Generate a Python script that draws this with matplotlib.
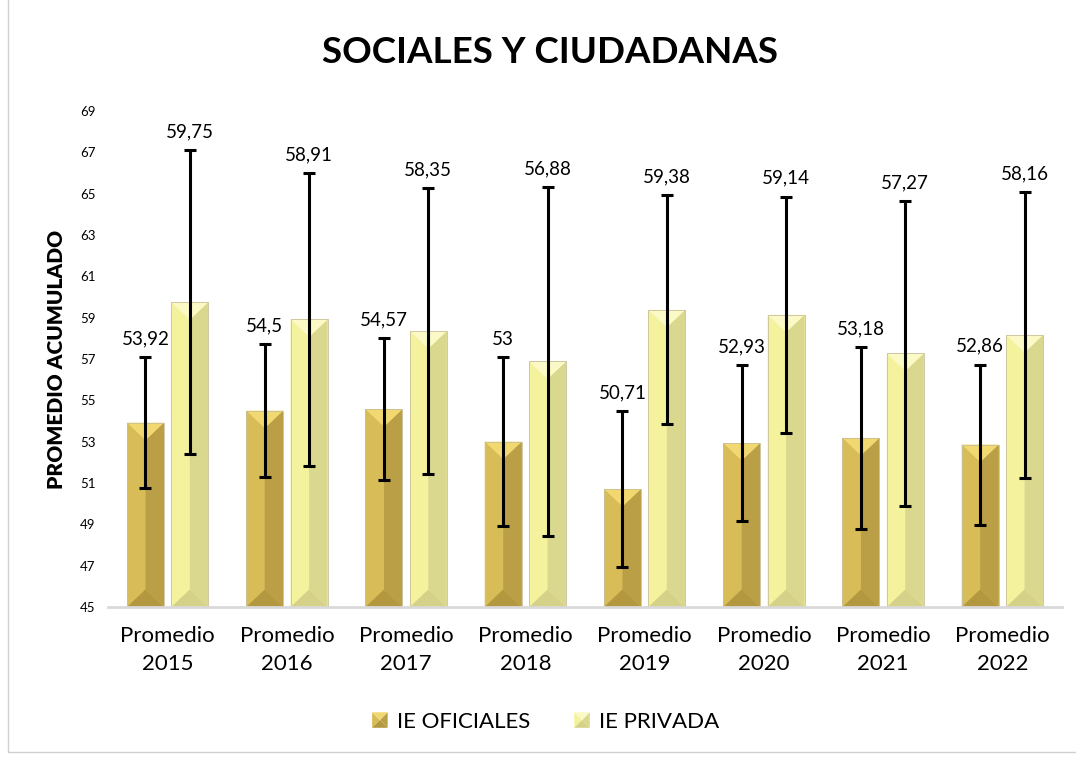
import matplotlib
matplotlib.use("Agg")
import matplotlib.pyplot as plt
import matplotlib.patches as patches
from matplotlib.legend_handler import HandlerBase
import numpy as np

plt.rcParams['font.family'] = ['Lato', 'DejaVu Sans']

# data
years = ['2015', '2016', '2017', '2018', '2019', '2020', '2021', '2022']
categories = ['Promedio\n' + y for y in years]
oficiales = [53.92, 54.5, 54.57, 53.0, 50.71, 52.93, 53.18, 52.86]
privada = [59.75, 58.91, 58.35, 56.88, 59.38, 59.14, 57.27, 58.16]
err_oficiales = [3.18, 3.22, 3.45, 4.08, 3.77, 3.78, 4.39, 3.87]
err_privada = [7.37, 7.10, 6.92, 8.45, 5.53, 5.72, 7.37, 6.90]
labels_oficiales = ['53,92', '54,5', '54,57', '53', '50,71', '52,93', '53,18', '52,86']
labels_privada = ['59,75', '58,91', '58,35', '56,88', '59,38', '59,14', '57,27', '58,16']

# colours: (top, left, right, bottom)
col_of = ('#F2D870', '#D8BC58', '#BA9F46', '#B39840')
col_pr = ('#FBF9C6', '#F5F29E', '#DAD78F', '#D5D189')


def bevel_polys(x0, y0, bw, bh, d):
    xc = x0 + bw / 2
    x1, y1 = x0 + bw, y0 + bh
    return [
        [(x0, y0), (xc, y0 + d), (xc, y1 - d), (x0, y1)],
        [(x1, y0), (xc, y0 + d), (xc, y1 - d), (x1, y1)],
        [(x0, y1), (x1, y1), (xc, y1 - d)],
        [(x0, y0), (x1, y0), (xc, y0 + d)],
    ]


class BevelHandler(HandlerBase):
    def __init__(self, cols):
        super().__init__()
        self.cols = cols

    def create_artists(self, legend, orig_handle, xdescent, ydescent, width, height, fontsize, trans):
        s = min(width, height)
        x0 = -xdescent + (width - s) / 2
        y0 = -ydescent + (height - s) / 2
        out = []
        order = [self.cols[1], self.cols[2], self.cols[0], self.cols[3]]
        for pts, c in zip(bevel_polys(x0, y0, s, s, s / 2), order):
            out.append(patches.Polygon(pts, closed=True, facecolor=c, edgecolor='none', transform=trans))
        return out


fig = plt.figure(figsize=(10.76, 7.59), dpi=100)
ax = fig.add_axes([0.1004, 0.2003, 0.8866, 0.6535])
ax.set_xlim(-0.5, len(years) - 0.5)
ax.set_ylim(45, 69)

x = np.arange(len(years))
w = 0.31
off = 0.186
b1 = ax.bar(x - off, np.array(oficiales) - 45, w, bottom=45, color=col_of[1], label='IE OFICIALES')
b2 = ax.bar(x + off, np.array(privada) - 45, w, bottom=45, color=col_pr[1], label='IE PRIVADA')

# bevel faces drawn over each bar
fig.canvas.draw()
px_x = ax.transData.transform((1, 0))[0] - ax.transData.transform((0, 0))[0]
px_y = ax.transData.transform((0, 1))[1] - ax.transData.transform((0, 0))[1]
for bars, cols in ((b1, col_of), (b2, col_pr)):
    order = [cols[1], cols[2], cols[0], cols[3]]
    for r in bars:
        x0, y0 = r.get_x(), r.get_y()
        bw, bh = r.get_width(), r.get_height()
        d = (bw / 2) * px_x / px_y * 0.95
        for pts, c in zip(bevel_polys(x0, y0, bw, bh, d), order):
            ax.add_patch(patches.Polygon(pts, closed=True, facecolor=c, edgecolor='none', zorder=2.1))
        ax.add_patch(patches.Rectangle((x0, y0), bw, bh, fill=False, edgecolor='#C8C09A', lw=0.6, zorder=2.2))

ax.errorbar(x - off, oficiales, yerr=err_oficiales, fmt='none', ecolor='black', elinewidth=2.2,
            capsize=4.5, capthick=2.2, zorder=3)
ax.errorbar(x + off, privada, yerr=err_privada, fmt='none', ecolor='black', elinewidth=2.2,
            capsize=4.5, capthick=2.2, zorder=3)

for i in range(len(years)):
    ax.annotate(labels_oficiales[i], (x[i] - off, oficiales[i] + err_oficiales[i]), xytext=(0, 7),
                textcoords='offset points', ha='center', va='bottom', fontsize=13.5)
    ax.annotate(labels_privada[i], (x[i] + off, privada[i] + err_privada[i]), xytext=(0, 7),
                textcoords='offset points', ha='center', va='bottom', fontsize=13.5)

ax.set_xticks(x)
ax.set_xticklabels(categories, fontsize=16, linespacing=1.5)
ax.set_yticks(np.arange(45, 70, 2))
ax.tick_params(axis='both', length=0)
ax.tick_params(axis='y', labelsize=9.5, pad=9)
ax.tick_params(axis='x', pad=14)
for s in ['top', 'right', 'left']:
    ax.spines[s].set_visible(False)
ax.spines['bottom'].set_color('#D9D9D9')
ax.spines['bottom'].set_linewidth(2)

ax.set_ylabel('PROMEDIO ACUMULADO', fontsize=15, fontweight='heavy', labelpad=10)
fig.text(0.511, 0.931, 'SOCIALES Y CIUDADANAS', ha='center', va='center', fontsize=26.5, fontweight='bold')

ax.legend([b1, b2], ['IE OFICIALES', 'IE PRIVADA'], loc='center', bbox_to_anchor=(0.507, 0.049),
          bbox_transform=fig.transFigure, ncol=2, frameon=False, fontsize=16,
          handlelength=0.7, handleheight=0.7, columnspacing=2.0, handletextpad=0.4,
          handler_map={b1: BevelHandler(col_of), b2: BevelHandler(col_pr)})

fig.patches.append(patches.Rectangle((0.007, 0.009), 1.2, 1.2, transform=fig.transFigure,
                                     fill=False, edgecolor='#D0D0D0', lw=1))

fig.savefig('out.png', dpi=100)
